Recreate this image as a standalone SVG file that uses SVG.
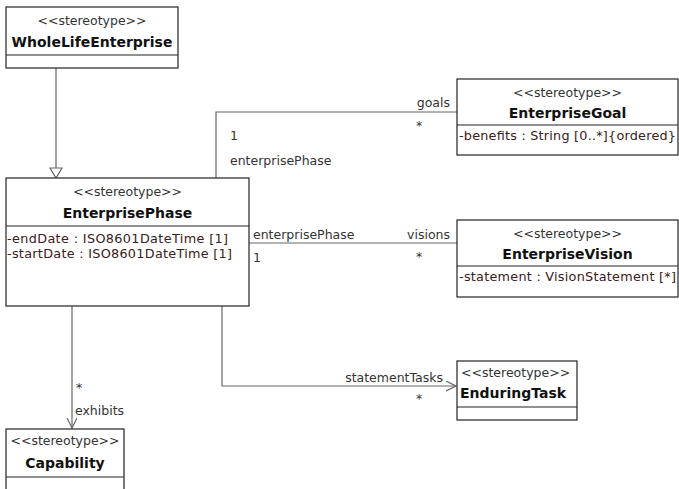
<svg xmlns="http://www.w3.org/2000/svg" width="679" height="489" viewBox="0 0 679 489">
<style>
.box{fill:#fff;stroke:#222;stroke-width:1.2}
.div{stroke:#222;stroke-width:1.2}
.st{font-family:"DejaVu Sans",sans-serif;font-size:12.5px;fill:#333}
.nm{font-family:"DejaVu Sans",sans-serif;font-size:14px;font-weight:bold;fill:#111}
.at{font-family:"DejaVu Sans",sans-serif;font-size:12.8px;fill:#3a2020}
.lb{font-family:"DejaVu Sans",sans-serif;font-size:12.5px;fill:#333}
.c{fill:none;stroke:#666;stroke-width:1.2}
</style>
<defs>
<marker id="open" markerWidth="12" markerHeight="12" refX="10" refY="5" orient="auto" markerUnits="userSpaceOnUse">
<path d="M0,0 L10,5 L0,10" fill="none" stroke="#666" stroke-width="1.2"/>
</marker>
</defs>
<rect width="679" height="489" fill="#fff"/>
<g id="connectors">
<line class="c" x1="56" y1="68" x2="56" y2="168"/>
<path d="M50,168 L62,168 L56,178 Z" fill="#fff" stroke="#666" stroke-width="1.2"/>
<polyline class="c" points="216,178 216,112 457,112"/>
<line class="c" x1="249" y1="243" x2="457" y2="243"/>
<line class="c" x1="72" y1="306" x2="72" y2="428" marker-end="url(#open)"/>
<polyline class="c" points="222,306 222,386 456,386" marker-end="url(#open)"/>
<text class="lb" x="450" y="107" text-anchor="end">goals</text>
<text class="lb" x="416" y="130">*</text>
<text class="lb" x="230" y="140">1</text>
<text class="lb" x="230" y="165">enterprisePhase</text>
<text class="lb" x="253" y="239">enterprisePhase</text>
<text class="lb" x="450" y="239" text-anchor="end">visions</text>
<text class="lb" x="253" y="262">1</text>
<text class="lb" x="416" y="261">*</text>
<text class="lb" x="76" y="392">*</text>
<text class="lb" x="75" y="415">exhibits</text>
<text class="lb" x="443" y="382" text-anchor="end">statementTasks</text>
<text class="lb" x="416" y="403">*</text>
</g>
<g id="WholeLifeEnterprise">
<rect class="box" x="6" y="7" width="172" height="61"/>
<line class="div" x1="6" y1="55" x2="178" y2="55"/>
<text class="st" x="92" y="25" text-anchor="middle">&lt;&lt;stereotype&gt;&gt;</text>
<text class="nm" x="92" y="47" text-anchor="middle">WholeLifeEnterprise</text>
</g>
<g id="EnterprisePhase">
<rect class="box" x="6" y="178" width="243" height="128"/>
<line class="div" x1="6" y1="226" x2="249" y2="226"/>
<text class="st" x="127.5" y="196" text-anchor="middle">&lt;&lt;stereotype&gt;&gt;</text>
<text class="nm" x="127.5" y="218" text-anchor="middle">EnterprisePhase</text>
<text class="at" x="7" y="243" textLength="221">-endDate : ISO8601DateTime [1]</text>
<text class="at" x="7" y="258" textLength="225">-startDate : ISO8601DateTime [1]</text>
</g>
<g id="EnterpriseGoal">
<rect class="box" x="457" y="79" width="221" height="76"/>
<line class="div" x1="457" y1="125" x2="678" y2="125"/>
<text class="st" x="567.5" y="97" text-anchor="middle">&lt;&lt;stereotype&gt;&gt;</text>
<text class="nm" x="567.5" y="118" text-anchor="middle">EnterpriseGoal</text>
<text class="at" x="459" y="140" textLength="217">-benefits : String [0..*]{ordered}</text>
</g>
<g id="EnterpriseVision">
<rect class="box" x="457" y="220" width="221" height="77"/>
<line class="div" x1="457" y1="266" x2="678" y2="266"/>
<text class="st" x="567.5" y="238" text-anchor="middle">&lt;&lt;stereotype&gt;&gt;</text>
<text class="nm" x="567.5" y="259" text-anchor="middle">EnterpriseVision</text>
<text class="at" x="459" y="281" textLength="217">-statement : VisionStatement [*]</text>
</g>
<g id="EnduringTask">
<rect class="box" x="457" y="361" width="120" height="59"/>
<line class="div" x1="457" y1="407" x2="577" y2="407"/>
<text class="st" x="461" y="377">&lt;&lt;stereotype&gt;&gt;</text>
<text class="nm" x="460" y="398">EnduringTask</text>
</g>
<g id="Capability">
<rect class="box" x="6" y="429" width="118" height="70"/>
<line class="div" x1="6" y1="477" x2="124" y2="477"/>
<text class="st" x="65" y="445" text-anchor="middle">&lt;&lt;stereotype&gt;&gt;</text>
<text class="nm" x="65" y="468" text-anchor="middle">Capability</text>
</g>
</svg>
